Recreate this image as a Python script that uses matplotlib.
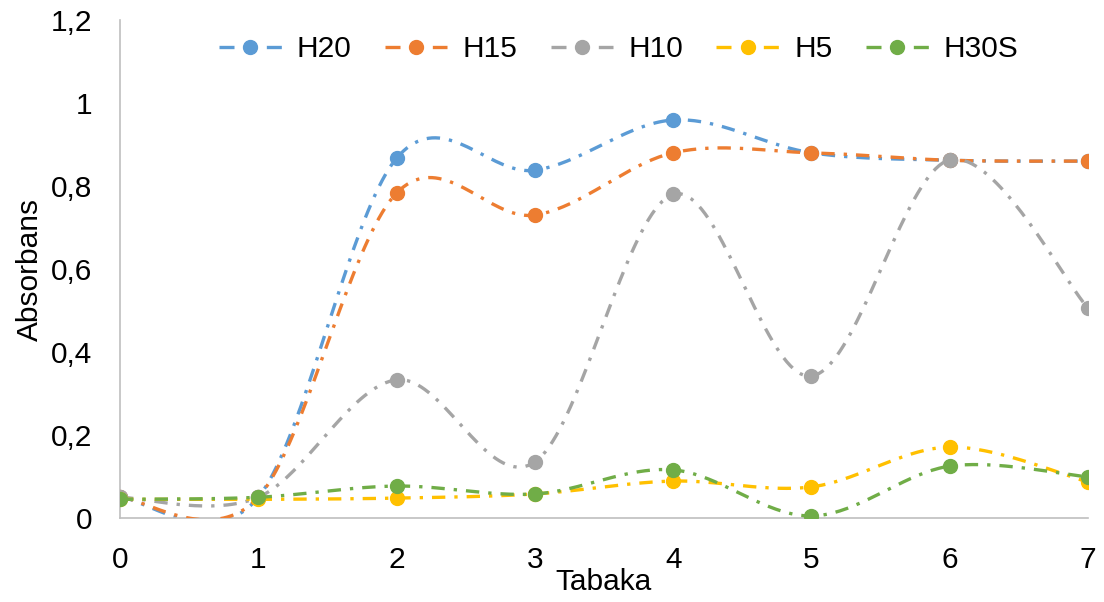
import numpy as np
import matplotlib
matplotlib.use("Agg")
import matplotlib.pyplot as plt
from matplotlib.lines import Line2D

plt.rcParams['font.family'] = ['Liberation Sans', 'DejaVu Sans']

x = [0, 1, 2, 3, 4, 5, 6, 7]
series_names = ["H20", "H15", "H10", "H5", "H30S"]
h20 = [0.050, 0.050, 0.867, 0.838, 0.959, 0.880, 0.862, 0.860]
h15 = [0.050, 0.050, 0.783, 0.730, 0.880, 0.880, 0.862, 0.860]
h10 = [0.050, 0.050, 0.333, 0.135, 0.780, 0.342, 0.863, 0.506]
h5 = [0.045, 0.045, 0.048, 0.058, 0.089, 0.075, 0.171, 0.087]
h30s = [0.045, 0.050, 0.077, 0.058, 0.116, 0.005, 0.125, 0.099]
colors = ["#5B9BD5", "#ED7D31", "#A5A5A5", "#FFC000", "#70AD47"]
yticks = [0, 0.2, 0.4, 0.6, 0.8, 1.0, 1.2]
ytick_labels = ["0", "0,2", "0,4", "0,6", "0,8", "1", "1,2"]


def smooth(xs, ys, n=40):
    xs = np.asarray(xs, float)
    ys = np.asarray(ys, float)
    P = np.column_stack([xs, ys])
    out = []
    m = len(P)
    for i in range(m - 1):
        p0 = P[max(i - 1, 0)]
        p1 = P[i]
        p2 = P[i + 1]
        p3 = P[min(i + 2, m - 1)]
        c1 = p1 + (p2 - p0) / 6.0
        c2 = p2 - (p3 - p1) / 6.0
        t = np.linspace(0, 1, n)[:, None]
        seg = ((1 - t) ** 3) * p1 + 3 * ((1 - t) ** 2) * t * c1 + 3 * (1 - t) * t ** 2 * c2 + t ** 3 * p2
        if i > 0:
            seg = seg[1:]
        out.append(seg)
    out = np.vstack(out)
    return out[:, 0], out[:, 1]


fig = plt.figure(figsize=(11.04, 6.02), dpi=100)
ax = fig.add_axes([0.1087, 0.1395, 0.8768, 0.8273])

lw = 2.4
fs = 21.5
data = [h20, h15, h10, h5, h30s]
handles = []
for i, (name, ys, c) in enumerate(zip(series_names, data, colors)):
    sx, sy = smooth(x, ys)
    ax.plot(sx, sy, color=c, lw=lw, linestyle=(0, (4.0, 2.7, 1.0, 2.7)),
            solid_capstyle='butt', dash_capstyle='butt', zorder=2 + i)
    ax.plot(x, ys, linestyle='none', marker='o', markersize=10, color=c, zorder=2 + i)
    handles.append(Line2D([0], [0], color=c, lw=lw, linestyle=(0, (4.5, 9.7)),
                          marker='o', markersize=10, label=name))

ax.set_xlim(0, 7)
ax.set_ylim(0, 1.2)
ax.set_xticks(x)
ax.set_xticklabels([str(v) for v in x])
ax.set_yticks(yticks)
ax.set_yticklabels(ytick_labels)
ax.tick_params(axis='y', length=0, labelsize=fs, colors='black', pad=20)
ax.tick_params(axis='x', length=0, labelsize=fs, colors='black', pad=20)
for s in ['top', 'right']:
    ax.spines[s].set_visible(False)
for s in ['left', 'bottom']:
    ax.spines[s].set_color('#BFBFBF')
    ax.spines[s].set_linewidth(1.2)

ax.set_xlabel("Tabaka", fontsize=fs, labelpad=-4)
ax.set_ylabel("Absorbans", fontsize=fs, labelpad=5)

leg = ax.legend(handles=handles, loc='upper center', bbox_to_anchor=(0.515, 1.005), ncol=5,
                frameon=False, fontsize=fs, handlelength=2.1, columnspacing=1.12,
                handletextpad=0.5, borderaxespad=0.2)

fig.savefig("out.png", dpi=100)
